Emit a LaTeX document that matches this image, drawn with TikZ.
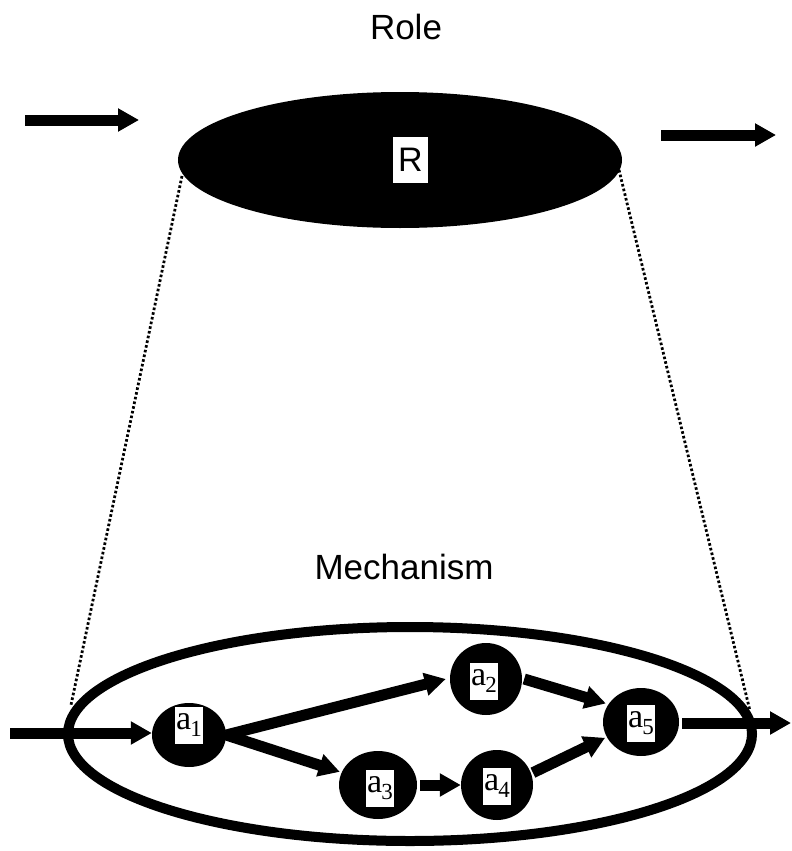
\documentclass[tikz,border=0pt]{standalone}
\usepackage{fontspec}
\setmainfont{Liberation Sans}
\newfontfamily\labfont{Liberation Serif}
\usetikzlibrary{arrows.meta,shapes.geometric}
\tikzset{
  bigtext/.style={font=\fontsize{35}{40}\selectfont, inner sep=0pt, anchor=base},
  act/.style={ellipse, fill=black, inner sep=0pt},
  lab/.style={fill=white, inner xsep=1pt, inner ysep=0pt, minimum width=27pt, minimum height=37pt,
    font=\labfont\fontsize{34}{34}\selectfont},
  flow/.style={line width=11pt, -{Triangle[length=21pt,width=22pt]}},
  dotline/.style={line width=2.8pt, dash pattern=on 2.6pt off 2.2pt},
}
\newcommand{\actlab}[1]{a\kern-1pt\raisebox{-7pt}{\fontsize{23}{23}\selectfont #1}}
\begin{document}
\begin{tikzpicture}[x=1pt,y=-1pt]
\useasboundingbox (0,0) rectangle (792,851);
% titles
\node[bigtext] (role) at (406,40) {Role};
\node[bigtext] (mech) at (404,579) {Mechanism};
% dotted lines
\coordinate (dlt) at (182,176);
\coordinate (dlb) at (71,705);
\coordinate (drt) at (619,170);
\coordinate (drb) at (750,711);
\draw[dotline] (dlt) -- (dlb);
\draw[dotline] (drt) -- (drb);
% role ellipse
\node[ellipse, fill=black, inner sep=0pt, minimum width=444pt, minimum height=136pt] (role ellipse) at (400,160) {};
\node[fill=white, inner sep=0pt, minimum width=35pt, minimum height=46pt, font=\fontsize{34}{34}\selectfont] (R) at (410.5,160) {R};
% role arrows
\coordinate (rin1) at (25,120);
\coordinate (rin2) at (139,120);
\coordinate (rout1) at (661,135);
\coordinate (rout2) at (776,135);
\draw[flow] (rin1) -- (rin2);
\draw[flow] (rout1) -- (rout2);
% mechanism ellipse
\node[ellipse, draw=black, line width=10pt, inner sep=0pt, minimum width=684pt, minimum height=214pt] (mech ellipse) at (410,734) {};
% activities
\node[act, minimum width=74pt, minimum height=64pt] (a1) at (189,735) {};
\node[act, minimum width=72pt, minimum height=72pt] (a2) at (486,679) {};
\node[act, minimum width=78pt, minimum height=68pt] (a3) at (378,785) {};
\node[act, minimum width=72pt, minimum height=70pt] (a4) at (497,785) {};
\node[act, minimum width=76pt, minimum height=68pt] (a5) at (641,722) {};
\node[lab] (l1) at (189,725) {\actlab{1}};
\node[lab] (l2) at (484,681) {\actlab{2}};
\node[lab] (l3) at (380,788) {\actlab{3}};
\node[lab] (l4) at (497,786) {\actlab{4}};
\node[lab] (l5) at (641,723) {\actlab{5}};
% flows
\coordinate (in) at (10,733);
\coordinate (out) at (791,723);
\draw[flow] (in) -- (a1.west |- in);
\draw[flow] (a1.east) -- ([xshift=-4pt]a2.west);
\draw[flow] (a1.east) -- ([xshift=-2pt]a3.160);
\draw[flow] ([xshift=2pt]a2.east) -- ([xshift=-3pt]a5.150);
\draw[flow] ([xshift=3pt]a3.east) -- (a4.west);
\draw[flow] ([xshift=2pt]a4.20) -- ([xshift=-2pt]a5.205);
\draw[flow] ([xshift=3pt]a5.east |- out) -- (out);
\end{tikzpicture}
\end{document}
